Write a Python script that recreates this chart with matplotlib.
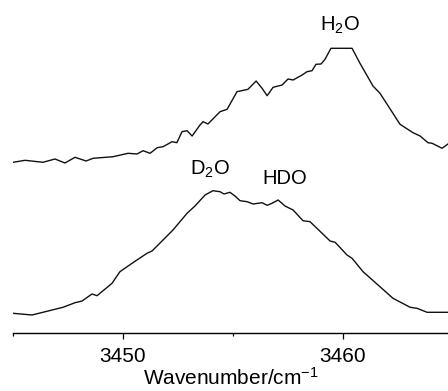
import matplotlib
matplotlib.use("Agg")
import matplotlib.pyplot as plt
from matplotlib.ticker import MultipleLocator

plt.rcParams['font.family'] = ['Liberation Sans', 'DejaVu Sans']
plt.rcParams['mathtext.fontset'] = 'custom'
plt.rcParams['mathtext.rm'] = 'Liberation Sans'
plt.rcParams['mathtext.default'] = 'regular'

# Upper spectrum (H2O), wavenumber / cm^-1 and intensity (arb. units, offset)
h2o_wn = [3445.00, 3445.55, 3446.36, 3446.91, 3447.36, 3447.82, 3448.32, 3448.64,
          3449.55, 3450.23, 3450.64, 3450.91, 3451.23, 3451.55, 3451.82, 3452.23,
          3452.45, 3452.68, 3452.91, 3453.14, 3453.50, 3453.64, 3453.86, 3454.41,
          3454.73, 3455.18, 3455.68, 3456.05, 3456.32, 3456.55, 3456.82, 3457.23,
          3457.50, 3457.73, 3458.14, 3458.36, 3458.59, 3458.77, 3459.00, 3459.18,
          3459.45, 3460.41, 3460.77, 3461.36, 3461.68, 3462.59, 3463.18, 3463.50,
          3463.86, 3464.05, 3464.50, 3464.77]
h2o_int = [1.707, 1.727, 1.707, 1.740, 1.700, 1.757, 1.720, 1.747,
           1.763, 1.797, 1.790, 1.823, 1.797, 1.853, 1.863, 1.913,
           1.903, 2.013, 2.023, 1.970, 2.080, 2.113, 2.090, 2.213,
           2.237, 2.413, 2.437, 2.520, 2.447, 2.373, 2.457, 2.480,
           2.540, 2.530, 2.580, 2.613, 2.623, 2.687, 2.690, 2.737,
           2.847, 2.847, 2.697, 2.470, 2.397, 2.087, 2.003, 1.970,
           1.903, 1.897, 1.847, 1.890]

# Lower spectrum (D2O / HDO)
d2o_wn = [3445.00, 3445.86, 3446.36, 3447.27, 3447.82, 3448.14, 3448.59, 3448.82,
          3449.50, 3449.86, 3450.45, 3451.09, 3451.32, 3451.82, 3452.27, 3452.91,
          3453.27, 3453.73, 3454.09, 3454.41, 3454.59, 3454.86, 3455.09, 3455.32,
          3455.64, 3455.91, 3456.32, 3456.55, 3456.77, 3457.05, 3457.36, 3457.73,
          3458.18, 3458.50, 3459.41, 3459.64, 3460.18, 3460.41, 3460.91, 3462.27,
          3463.05, 3463.36, 3463.82, 3464.77]
d2o_int = [0.197, 0.180, 0.207, 0.257, 0.303, 0.320, 0.390, 0.373,
           0.497, 0.613, 0.703, 0.797, 0.820, 0.930, 1.030, 1.197,
           1.270, 1.380, 1.423, 1.413, 1.390, 1.407, 1.370, 1.323,
           1.313, 1.290, 1.303, 1.277, 1.297, 1.330, 1.270, 1.230,
           1.123, 1.113, 0.920, 0.907, 0.780, 0.747, 0.613, 0.347,
           0.257, 0.247, 0.207, 0.207]

labels = ['H$_2$O', 'D$_2$O', 'HDO']
label_wn = [3459.86, 3453.95, 3457.36]
label_int = [3.08, 1.64, 1.55]

fig = plt.figure(figsize=(4.48, 3.91), dpi=100)
ax = fig.add_axes([13/448, (391-333)/391, 1 - 13/448, 333/391])

ax.plot(h2o_wn, h2o_int, color='#111111', lw=1.0)
ax.plot(d2o_wn, d2o_int, color='#111111', lw=1.0)

for t, x, y in zip(labels, label_wn, label_int):
    ax.text(x, y, t, ha='center', va='center', fontsize=14.5)

ax.set_xlim(3445, 3464.77)
ax.set_ylim(0, 3.33)
for s in ['top', 'left', 'right']:
    ax.spines[s].set_visible(False)
ax.spines['bottom'].set_linewidth(1.0)
ax.set_yticks([])
ax.xaxis.set_major_locator(MultipleLocator(10))
ax.xaxis.set_minor_locator(MultipleLocator(5))
ax.tick_params(axis='x', which='major', direction='out', length=4, width=0.9,
               labelsize=15, pad=6)
ax.tick_params(axis='x', which='minor', direction='out', length=2.5, width=0.9)
ax.set_xlabel('Wavenumber/cm$^{-1}$', fontsize=15, labelpad=0.5)

fig.savefig('out.png', dpi=100)
